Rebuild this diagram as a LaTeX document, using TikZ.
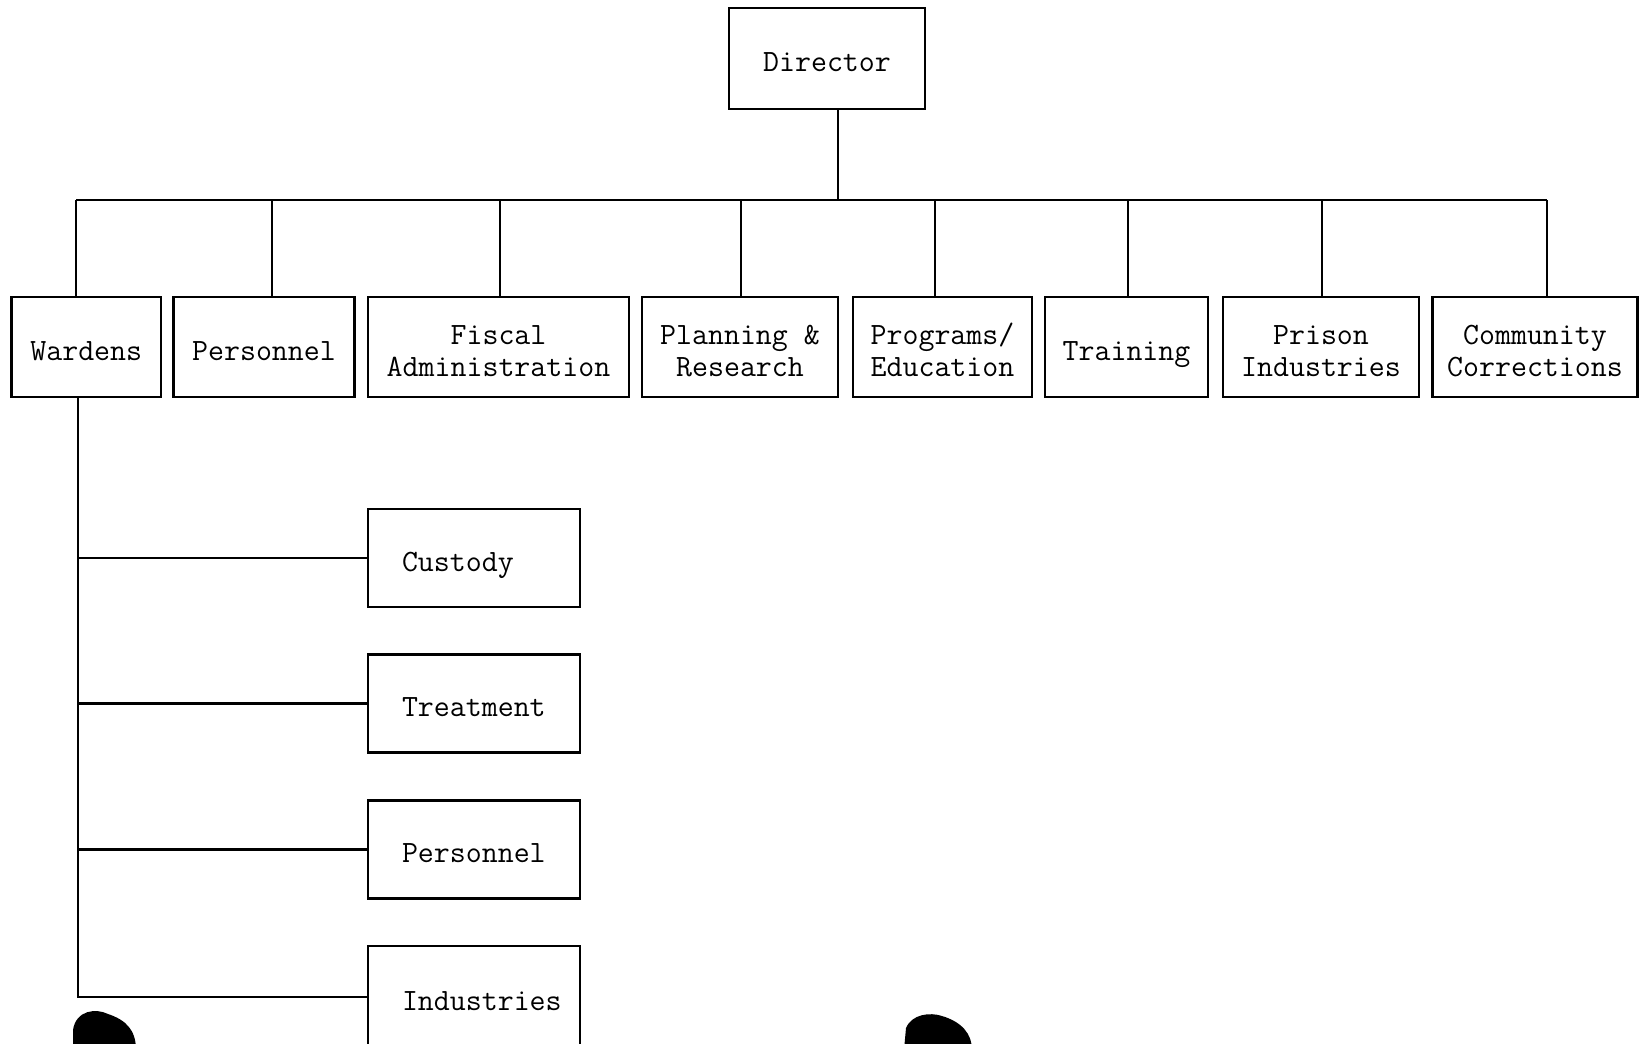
\documentclass[tikz,border=0pt]{standalone}
\usepackage{fontspec}
\newcommand\orgfont{\ttfamily\fontsize{31}{32}\selectfont}
% typed labels: lines on a fixed 32pt pitch, set slightly low in their boxes
\newcommand\ctext[1]{\raisebox{0pt}[\dimexpr\height+14pt\relax][\depth]{\begin{tabular}{@{}c@{}}#1\end{tabular}}}
\newcommand\ltext[1]{\raisebox{0pt}[\dimexpr\height+14pt\relax][\depth]{\begin{tabular}{@{}l@{}}#1\end{tabular}}}
\begin{document}
\begin{tikzpicture}[x=1pt,y=-1pt,
  box/.style={draw, line width=2.6pt, font=\orgfont,
    inner sep=0pt, minimum height=100pt},
  subbox/.style={draw, line width=2.6pt, font=\orgfont,
    inner xsep=34pt, inner ysep=0pt, text width=144pt, minimum height=98pt},
  link/.style={line width=2.2pt}]
\useasboundingbox (0,0) rectangle (1639,1044);
\fill[white] (0,0) rectangle (1639,1044);

% head of the organisation
\node[box, minimum width=196pt, minimum height=101pt] (director) at (827,58.5) {\ctext{Director}};

% divisions reporting to the director
\node[box, minimum width=149.5pt] (wardens)   at (86.25,347) {\ctext{Wardens}};
\node[box, minimum width=180.5pt] (personnel) at (264,347)   {\ctext{Personnel}};
\node[box, minimum width=261pt]   (fiscal)    at (498.5,347) {\ctext{Fiscal\\Administration}};
\node[box, minimum width=196pt]   (planning)  at (740,347)   {\ctext{Planning \&\\Research}};
\node[box, minimum width=179pt]   (programs)  at (942.5,347) {\ctext{Programs/\\Education}};
\node[box, minimum width=163pt]   (training)  at (1126.5,347) {\ctext{Training}};
\node[box, minimum width=196pt]   (prison)    at (1321,347)  {\ctext{Prison\\Industries}};
\node[box, minimum width=205pt]   (community) at (1535,347)  {\ctext{Community\\Corrections}};

% units under the wardens
\node[subbox] (custody)    at (474,558)   {\ltext{Custody}};
\node[subbox] (treatment)  at (474,703.5) {\ltext{Treatment}};
\node[subbox] (wpersonnel) at (474,849.5) {\ltext{Personnel}};
\node[subbox, minimum height=102pt] (industries) at (474,997) {\ltext{Industries}};

% bus line and its taps
\coordinate (hub) at (838,200);
\coordinate (t1) at (76,200);
\coordinate (t2) at (272,200);
\coordinate (t3) at (500,200);
\coordinate (t4) at (741,200);
\coordinate (t5) at (935,200);
\coordinate (t6) at (1128,200);
\coordinate (t7) at (1322,200);
\coordinate (t8) at (1547,200);

\draw[link] (director.south -| hub) -- (hub);
\draw[link] (t1) -- (t8);
\draw[link] (t1) -- (t1 |- wardens.north);
\draw[link] (t2) -- (t2 |- personnel.north);
\draw[link] (t3) -- (t3 |- fiscal.north);
\draw[link] (t4) -- (t4 |- planning.north);
\draw[link] (t5) -- (t5 |- programs.north);
\draw[link] (t6) -- (t6 |- training.north);
\draw[link] (t7) -- (t7 |- prison.north);
\draw[link] (t8) -- (t8 |- community.north);

% wardens' stem and branches
\coordinate (stem) at (78,0);
\draw[link] (stem |- wardens.south) -- (stem |- industries.west) -- (industries.west);
\draw[link] (stem |- custody.west) -- (custody.west);
\draw[link] (stem |- treatment.west) -- (treatment.west);
\draw[link] (stem |- wpersonnel.west) -- (wpersonnel.west);

% dark marks along the lower edge of the sheet
\fill[black] (73,1050) -- (73,1030) .. controls (76,1010) and (96,1008) .. (108,1014)
  .. controls (126,1020) and (136,1030) .. (136,1050) -- cycle;
\fill[black] (904,1050) -- (906,1028) .. controls (912,1014) and (930,1012) .. (942,1016)
  .. controls (962,1022) and (972,1034) .. (972,1050) -- cycle;
\end{tikzpicture}
\end{document}
